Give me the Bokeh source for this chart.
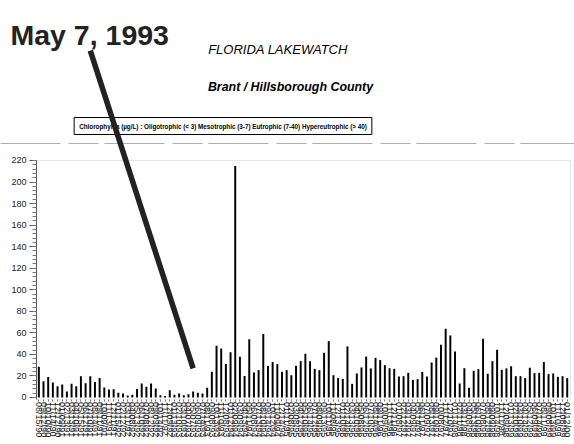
from bokeh.plotting import figure
from bokeh.models import (Range1d, SingleIntervalTicker, FixedTicker, Label,
                          Arrow, BoxAnnotation, Span)
from bokeh.embed import file_html
from bokeh.resources import INLINE

# ---- data ----
dates = [
    "08/15/90", "09/12/90", "10/10/90", "11/14/90", "12/12/90",
    "01/09/91", "02/13/91", "03/13/91", "04/10/91", "05/15/91", "06/12/91",
    "07/10/91", "08/14/91", "09/11/91", "10/09/91", "11/13/91", "12/11/91",
    "01/15/92", "02/12/92", "03/11/92", "04/08/92", "05/13/92", "06/10/92",
    "07/08/92", "08/12/92", "09/09/92", "10/14/92", "11/11/92", "12/09/92",
    "01/13/93", "02/10/93", "03/10/93", "04/07/93", "05/07/93", "06/09/93",
    "07/14/93", "08/11/93", "09/08/93", "10/13/93", "11/10/93", "12/08/93",
    "01/12/94", "02/09/94", "03/09/94", "04/13/94", "05/11/94", "06/08/94",
    "07/13/94", "08/10/94", "09/14/94", "10/12/94", "11/09/94", "12/14/94",
    "01/11/95", "02/08/95", "03/08/95", "04/12/95", "05/10/95", "06/14/95",
    "07/12/95", "08/09/95", "09/13/95", "10/11/95", "11/08/95", "12/13/95",
    "01/10/96", "02/14/96", "03/13/96", "04/10/96", "05/08/96", "06/12/96",
    "07/10/96", "08/14/96", "09/11/96", "10/09/96", "11/13/96", "12/11/96",
    "01/08/97", "02/12/97", "03/12/97", "04/09/97", "05/14/97", "06/11/97",
    "07/09/97", "08/13/97", "09/10/97", "10/08/97", "11/12/97", "12/10/97",
    "01/14/98", "02/11/98", "03/11/98", "04/08/98", "05/13/98", "06/10/98",
    "07/08/98", "08/12/98", "09/09/98", "10/14/98", "11/11/98", "12/09/98",
    "01/13/99", "02/10/99", "03/10/99", "04/14/99", "05/12/99", "06/09/99",
    "07/14/99", "08/11/99", "09/08/99", "10/13/99", "11/10/99", "12/08/99",
    "01/12/00",
]

chlorophyll = [
    28.5, 15, 19, 14, 10.5, 12, 5.5, 12.7, 10.5, 19.8, 13.3, 19.8, 14.5, 18,
    9.3, 7.4, 7.7, 4.3, 3.7, 1.9, 2.5,
    8, 13, 10, 13, 8.4, 2, 1.5, 6.8, 2.5, 3.7, 2.2, 3, 5.6, 4.3, 3.7, 9, 23.8,
    48, 45.5, 31, 42, 215,
    37.8, 20, 54, 23.2, 25.4, 59, 29.4, 33, 31, 23.8, 25.4, 20.7, 29.4, 33.7,
    40.6, 33.7, 26.6, 25.4, 41.5, 52.3, 20.7, 18, 17.3, 47.4,
    12.7, 22.3, 27.9, 38, 27, 36.8, 34.7, 30, 27.2, 26.6, 19.5, 19.8, 22.9,
    16.4, 17, 23.8, 19.5, 32.5, 37, 49, 63.8, 57.6, 42.7,
    13, 27.2, 9, 24.8, 26.3, 54.5, 22, 33.7, 44.3, 25.7, 27, 29, 19.8, 19.8,
    18, 27.6, 22.6, 22.9, 33, 21.7, 22.3, 19.2, 19.8, 18,
]

y_min, y_max, y_step = 0, 220, 20

annotation_date = "05/07/93"
annotation_text = "May 7, 1993"
title_text = "FLORIDA LAKEWATCH"
subtitle_text = "Brant / Hillsborough County"
legend_text = ("Chlorophyll a (\u00b5g/L) : Oligotrophic (< 3) Mesotrophic (3-7) "
               "Eutrophic (7-40) Hypereutrophic (> 40)")

FONT = "Liberation Sans"
W, H = 574, 444

xs = list(range(len(dates)))

# the frame covers the whole canvas; the chart area is bounded inside it
x_lo, x_hi = -0.5, len(dates) - 0.3
y_lo = -1.5
p = figure(width=W, height=H, output_backend="svg", toolbar_location=None,
           x_range=Range1d(-8.199, 114.555), y_range=Range1d(-43.63, 368.52),
           min_border=0, min_border_left=0, min_border_right=0,
           min_border_top=0, min_border_bottom=0)
p.outline_line_color = None
p.xgrid.visible = False
p.ygrid.visible = False
p.background_fill_color = "white"
p.border_fill_color = "white"

# pixel-like helper ranges for the heading texts (top-down)
p.extra_x_ranges = {"px": Range1d(0, W)}
p.extra_y_ranges = {"px": Range1d(H, 0)}

# chart box (grey top / right edge)
p.add_layout(BoxAnnotation(left=x_lo, right=x_hi, bottom=y_lo, top=y_max,
                           fill_alpha=0, fill_color=None,
                           line_color="#a8a8a8", line_width=1,
                           level="underlay"))

p.vbar(x=xs, top=chlorophyll, width=0.42, fill_color="black",
       line_color=None)

# y axis
p.yaxis.fixed_location = x_lo
p.yaxis.bounds = (y_lo, y_max)
p.yaxis.ticker = SingleIntervalTicker(interval=y_step, num_minor_ticks=5)
p.yaxis.major_label_text_font = FONT
p.yaxis.major_label_text_font_size = "9px"
p.yaxis.major_label_text_color = "#222222"
p.yaxis.axis_line_color = "#555555"
p.yaxis.major_tick_line_color = "#555555"
p.yaxis.minor_tick_line_color = "#777777"
p.yaxis.major_tick_out = 7
p.yaxis.major_tick_in = 0
p.yaxis.minor_tick_out = 4
p.yaxis.minor_tick_in = 0
p.yaxis.major_label_standoff = 3

# x axis
p.xaxis.fixed_location = y_lo
p.xaxis.bounds = (x_lo, x_hi)
p.xaxis.ticker = FixedTicker(ticks=xs)
p.xaxis.major_label_overrides = {i: d for i, d in zip(xs, dates)}
p.xaxis.major_label_orientation = "vertical"
p.xaxis.major_label_text_font = FONT
p.xaxis.major_label_text_font_size = "9px"
p.xaxis.major_label_text_color = "#222222"
p.xaxis.axis_line_color = None
p.xaxis.major_tick_line_color = "#777777"
p.xaxis.major_tick_out = 2
p.xaxis.major_tick_in = 0
p.xaxis.minor_tick_line_color = None
p.xaxis.major_label_standoff = 1

# heading texts
p.add_layout(Label(x=10, y=34, x_range_name="px", y_range_name="px",
                   text=annotation_text, text_font=FONT, text_font_size="28.5px",
                   text_font_style="bold", text_color="#222222",
                   text_baseline="alphabetic", text_align="left"))
p.add_layout(Label(x=277.5, y=49, x_range_name="px", y_range_name="px",
                   text=title_text, text_font=FONT, text_font_size="13px",
                   text_font_style="italic", text_color="black",
                   text_baseline="middle", text_align="center"))
p.add_layout(Label(x=290, y=86, x_range_name="px", y_range_name="px",
                   text=subtitle_text, text_font=FONT, text_font_size="12.4px",
                   text_font_style="bold italic", text_color="black",
                   text_baseline="middle", text_align="center"))
p.add_layout(Label(x=222.5, y=125.5, x_range_name="px", y_range_name="px",
                   text=legend_text, text_font=FONT, text_font_size="6.3px",
                   text_font_style="bold", text_color="black",
                   text_baseline="middle", text_align="center",
                   border_line_color="black", border_line_width=1,
                   background_fill_color="white", padding=5))

# faint separator line
p.add_layout(Span(location=143, dimension="width", y_range_name="px",
                  line_color="#b0b0b0", line_width=1,
                  line_dash="60 8 30 6"))

# pointer line to the May 7, 1993 sample
idx = dates.index(annotation_date)
p.add_layout(Arrow(end=None, x_start=idx - 22.0, y_start=322,
                   x_end=idx, y_end=27,
                   line_color="#222222", line_width=5.5))

open("out.html", "w").write(file_html(p, INLINE))
